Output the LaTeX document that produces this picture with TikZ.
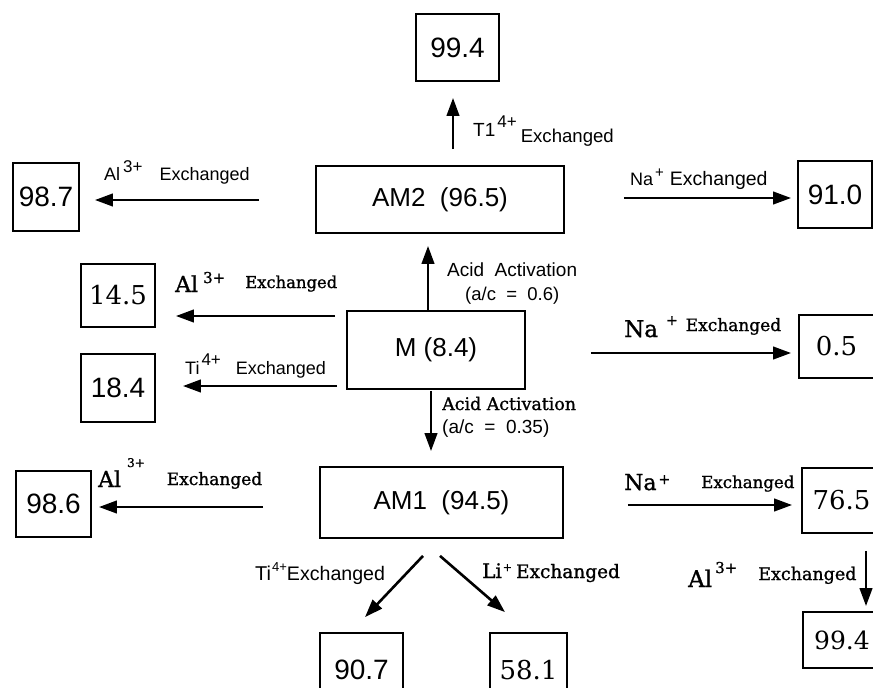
\documentclass[tikz,border=0pt]{standalone}
\usepackage{fontspec}
\setmainfont{Liberation Sans}
\newfontfamily\myserif{DejaVu Serif}
\newfontfamily\myserifb{DejaVu Serif}[FakeBold=1.2]
\usetikzlibrary{arrows.meta,calc}
\newcommand\myfs[1]{\fontsize{#1}{#1}\selectfont}
\newcommand\myup[3]{\raisebox{#1}{\myfs{#2}#3}}
\tikzset{
  nbox/.style={draw, line width=1.8pt, inner sep=0pt, font=\myfs{28}},
  sbox/.style={nbox, font=\myserif\myfs{26}},
  cbox/.style={nbox, font=\myfs{26}},
  arr/.style={line width=2.6pt, -{Triangle[length=18pt,width=12.5pt]}},
  lab/.style={anchor=base west, inner sep=0pt},
}
\begin{document}
\begin{tikzpicture}[x=1pt,y=-1pt]
\useasboundingbox (0,0) rectangle (873,688);
\clip (0,0) rectangle (873,688);

% boxes
\node[nbox, minimum width=83, minimum height=67] (t994) at (457.5,47.5) {99.4};
\node[nbox, minimum width=66, minimum height=68] (b987) at (46,197) {98.7};
\node[cbox, minimum width=248, minimum height=67] (AM2) at (440,199.5) {AM2\ \ (96.5)};
\node[nbox, minimum width=74, minimum height=67] (b910) at (835,194.5) {91.0};
\node[sbox, minimum width=74, minimum height=63] (b145) at (118,295.5) {14.5};
\node[nbox, minimum width=74, minimum height=68] (b184) at (118,388) {18.4};
\node[cbox, minimum width=178, minimum height=78] (M) at (436,350) {M (8.4)};
\node[sbox, minimum width=75, minimum height=63] (b05) at (836.5,346.5) {0.5};
\node[nbox, minimum width=75, minimum height=66] (b986) at (53.5,504) {98.6};
\node[cbox, minimum width=243, minimum height=71] (AM1) at (441.5,502.5) {AM1\ \ (94.5)};
\node[sbox, minimum width=79, minimum height=65] (b765) at (841.5,500.5) {76.5};
\node[nbox, minimum width=83, minimum height=74] (b907) at (361.5,670) {90.7};
\node[sbox, minimum width=77, minimum height=74] (b581) at (528.5,670) {58.1};
\node[sbox, minimum width=78, minimum height=56, font=\myserif\myfs{25}] (b994b) at (842,640) {99.4};

% helper coordinates for arrow lines
\coordinate (c453) at (453,0);
\coordinate (c428) at (428,0);
\coordinate (c431) at (431,0);
\coordinate (c866) at (866,0);
\coordinate (r200) at (0,200);
\coordinate (r198) at (0,198);
\coordinate (r316) at (0,316);
\coordinate (r386) at (0,386);
\coordinate (r353) at (0,353);
\coordinate (r507) at (0,507);
\coordinate (r505) at (0,505);

% arrows
\draw[arr, shorten <=16pt, shorten >=16pt] (AM2.north -| c453) -- (t994.south -| c453);
\draw[arr, shorten <=56pt, shorten >=15pt] (AM2.west |- r200) -- (b987.east |- r200);
\draw[arr, shorten <=59pt, shorten >=6pt] (AM2.east |- r198) -- (b910.west |- r198);
\draw[arr, shorten >=12pt] (M.north -| c428) -- (AM2.south -| c428);
\draw[arr, shorten <=11pt, shorten >=20pt] (M.west |- r316) -- (b145.east |- r316);
\draw[arr, shorten <=9pt, shorten >=27pt] (M.west |- r386) -- (b184.east |- r386);
\draw[arr, shorten <=65pt, shorten >=7pt] (M.east |- r353) -- (b05.west |- r353);
\draw[arr, shorten <=1pt, shorten >=15pt] (M.south -| c431) -- (AM1.north -| c431);
\draw[arr, shorten <=56pt, shorten >=7pt] (AM1.west |- r507) -- (b986.east |- r507);
\draw[arr] ($(AM1.south)+(-18.5,17)$) -- ($(b907.north)+(3.5,-15)$);
\draw[arr] ($(AM1.south)+(-1.5,17)$) -- ($(b581.north)+(-23.5,-20)$);
\draw[arr, shorten <=64pt, shorten >=9pt] (AM1.east |- r505) -- (b765.west |- r505);
\draw[arr, shorten <=17pt, shorten >=5pt] (b765.south -| c866) -- (b994b.north -| c866);

% labels
\node[lab] (l1) at (104,180) {\myfs{18}Al\hspace{3pt}\myup{8pt}{17}{3+}\hspace{17pt}Exchanged};
\node[lab] (l2) at (473,136) {\myfs{19}T1\hspace{2pt}\myup{9pt}{17}{4+}\hspace{4pt}\raisebox{-6pt}{\myfs{18.6}Exchanged}};
\node[lab] (l3) at (630,185) {\myfs{18}Na\hspace{2pt}\myup{8pt}{15}{+}\hspace{6pt}{\myfs{19.5}Exchanged}};
\node[lab] (l4) at (447,276) {\myfs{19}Acid\ \ Activation};
\node[lab] (l4b) at (465,300) {\myfs{18.5}(a/c\ \ =\ \ 0.6)};
\node[lab] (l5) at (175,292) {\myserifb\myfs{22}Al\hspace{5pt}\myup{9pt}{15}{3+}\hspace{20pt}\raisebox{4pt}{\myfs{16.4}Exchanged}};
\node[lab] (l6) at (185,374) {\myfs{18}Ti\hspace{2pt}\myup{9pt}{17}{4+}\hspace{15pt}Exchanged};
\node[lab] (l7) at (624,337) {\myserifb\myfs{23}Na\hspace{8pt}\myup{12pt}{14}{+}\hspace{8pt}\raisebox{6pt}{\myfs{17}Exchanged}};
\node[lab] (l8) at (442,410) {\myserifb\myfs{17.4}Acid Activation};
\node[lab] (l8b) at (442,433) {\myfs{19}(a/c\ \ =\ \ 0.35)};
\node[lab] (l9) at (98,487) {\myserifb\myfs{22}Al\hspace{6pt}\myup{20pt}{12}{3+}\hspace{22pt}\raisebox{2pt}{\myfs{17}Exchanged}};
\node[lab] (l10) at (255,580) {\myfs{20}Ti\hspace{1pt}\myup{9pt}{13}{4+}{\myfs{19.6}Exchanged}};
\node[lab] (l11) at (482,578) {\myserifb\myfs{20}Li\hspace{1pt}\myup{7pt}{11}{+}\hspace{4pt}{\myfs{18.5}Exchanged}};
\node[lab] (l12) at (624,490) {\myserifb\myfs{22}Na\hspace{2pt}\myup{6pt}{14}{+}\hspace{31pt}\raisebox{2pt}{\myfs{16.6}Exchanged}};
\node[lab] (l13) at (688,587) {\myserifb\myfs{23}Al\hspace{3pt}\myup{14pt}{15}{3+}\hspace{21pt}\raisebox{7pt}{\myfs{17.5}Exchanged}};
\end{tikzpicture}
\end{document}
